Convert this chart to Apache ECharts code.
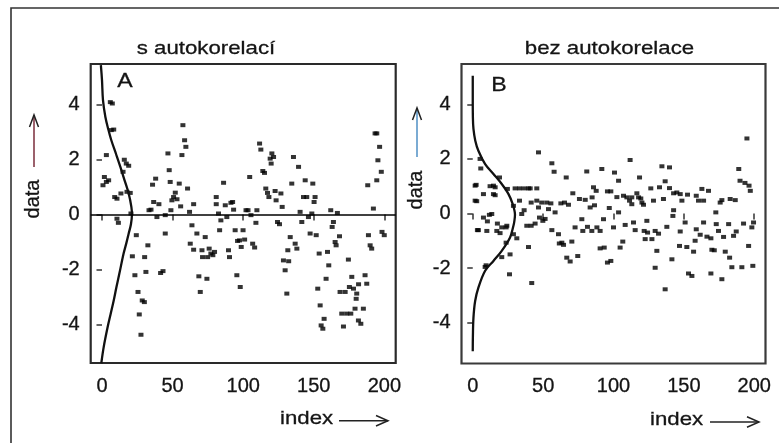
<!DOCTYPE html>
<html><head><meta charset="utf-8">
<script src="https://cdn.jsdelivr.net/npm/echarts@6/dist/echarts.min.js"></script>
<style>html,body{margin:0;padding:0;background:#fff}#c{width:779px;height:443px}</style>
</head><body><div id="c"></div>
<script>
const xTicks = [0, 50, 100, 150, 200];
const yTicks = [-4, -2, 0, 2, 4];
const titles = ['s autokorelací', 'bez autokorelace'];
const panelLabels = ['A', 'B'];
const axisNameY = 'data';
const axisNameX = 'index';

// panel A: autocorrelated series [index, value]
const seriesA = [[0.7,1.07],[1.7,1.37],[3.1,1.19],[4.7,1.25],[3.1,2.17],[5.9,4.1],[7.3,4.05],[6.6,3.08],[8.3,3.1],[9.0,0.64],[10.6,0.58],[10.6,-0.15],[11.6,-0.3],[13.4,0.77],[14.9,1.56],[15.8,2.0],[17.2,1.86],[18.9,1.78],[17.7,0.83],[20.0,0.79],[20.5,0.04],[24.3,-0.75],[21.5,-1.52],[23.3,-2.21],[25.5,-2.82],[26.4,-3.64],[27.6,-4.38],[28.5,-3.13],[30.0,-3.19],[30.2,-1.55],[31.1,-2.09],[32.5,-1.12],[33.3,0.16],[34.7,0.18],[35.8,1.09],[36.6,0.46],[38.0,1.31],[38.9,-0.09],[40.3,0.38],[41.5,-2.13],[43.2,-2.06],[44.8,-0.69],[44.8,-0.02],[46.7,2.23],[47.6,1.62],[48.3,1.19],[48.8,0.16],[49.5,0.52],[50.7,0.64],[51.9,0.8],[53.1,0.56],[54.7,1.13],[55.7,0.3],[56.6,2.17],[57.3,3.26],[58.5,2.71],[59.4,2.47],[60.6,0.95],[62.0,0.1],[63.7,-0.39],[62.5,-1.06],[64.9,0.38],[64.9,-1.28],[67.2,-0.69],[68.6,-2.25],[69.6,-2.82],[70.8,-1.3],[71.2,-1.55],[73.1,-0.82],[74.3,-2.34],[74.8,-1.55],[75.9,-1.24],[77.1,-1.42],[78.5,-1.48],[79.7,-1.36],[80.9,0.64],[80.9,0.38],[82.5,0.04],[83.3,-0.57],[84.2,-0.21],[86.1,1.16],[87.3,0.34],[88.4,-0.09],[89.6,-1.3],[90.3,-1.55],[91.3,0.43],[92.5,0.46],[93.2,0.18],[94.3,-0.57],[95.5,-2.21],[96.0,-0.96],[97.4,-0.94],[97.9,-2.64],[98.6,-1.18],[99.9,-0.57],[101.0,-0.91],[102.0,0.16],[103.4,0.16],[104.6,1.37],[105.5,-0.02],[106.7,-1.06],[108.1,-1.2],[109.0,-0.3],[109.7,0.16],[111.6,2.59],[112.5,2.37],[113.9,1.59],[115.1,1.52],[116.0,0.95],[117.2,0.79],[118.2,0.64],[119.1,2.04],[120.3,2.23],[121.5,2.1],[119.8,1.86],[122.6,0.86],[123.3,0.52],[124.3,-0.27],[125.7,-0.35],[126.7,0.77],[127.6,0.28],[128.5,-1.67],[129.7,-2.03],[130.9,-2.88],[131.6,-1.3],[132.2,-1.7],[133.3,-0.82],[134.4,1.13],[135.6,2.1],[136.8,-1.06],[138.0,-1.24],[139.2,1.74],[140.3,0.1],[141.5,-0.27],[142.7,0.64],[143.9,1.25],[145.0,0.64],[146.2,-0.09],[147.4,-0.69],[148.6,0.04],[149.3,1.13],[150.2,0.46],[150.9,0.64],[151.7,-0.75],[152.8,-2.7],[153.8,-1.42],[154.5,-3.31],[155.2,-4.04],[156.4,-4.16],[157.3,-3.8],[158.7,-2.34],[159.7,-1.36],[160.6,-1.85],[162.0,0.16],[163.0,-0.45],[163.9,-0.27],[165.1,-1.0],[165.8,-1.12],[166.7,0.06],[168.2,-0.79],[168.6,-2.82],[169.8,-3.61],[171.0,-4.08],[172.2,-2.82],[173.3,-3.61],[174.5,-1.64],[175.2,-2.64],[176.2,-3.61],[176.9,-2.27],[178.1,-2.7],[179.2,-3.43],[180.0,-3.07],[180.4,-2.88],[181.6,-3.86],[181.7,-2.54],[183.3,-3.98],[185.1,-3.43],[186.3,-2.21],[187.5,-2.52],[188.2,1.07],[188.7,-0.75],[189.9,-1.12],[191.0,-1.24],[192.2,0.22],[193.4,2.96],[194.6,2.96],[194.6,1.25],[195.4,1.98],[196.6,2.47],[197.8,1.56],[198.3,-0.63],[199.9,-0.75]];

// panel B: uncorrelated series [index, value]
const seriesB = [[1.7,1.02],[2.4,1.05],[1.7,0.47],[2.8,0.45],[3.3,-0.61],[5.2,2.0],[5.7,1.65],[4.0,-0.61],[7.6,0.71],[7.6,-0.15],[8.8,-1.96],[10.0,-0.64],[9.5,-1.9],[10.4,-0.29],[11.8,-0.05],[13.5,-0.02],[12.3,1.0],[14.7,1.02],[15.9,0.96],[14.7,0.71],[15.9,0.67],[17.1,-0.64],[17.5,-0.37],[19.0,1.32],[19.4,-0.72],[20.6,-0.51],[20.6,-1.6],[23.7,-0.51],[24.6,0.9],[23.7,-1.07],[24.2,-0.45],[26.5,-1.5],[26.1,-2.23],[28.9,0.28],[28.9,-0.76],[30.1,0.92],[31.3,-0.91],[33.2,0.92],[33.2,0.47],[34.8,-0.02],[36.5,0.92],[36.5,0.12],[38.4,-0.45],[39.6,0.92],[39.6,-1.23],[40.8,0.92],[41.5,0.4],[41.5,-0.45],[41.9,-2.55],[44.3,-0.37],[45.5,0.92],[45.5,0.47],[46.7,2.24],[46.7,0.22],[47.4,-0.15],[49.0,0.4],[49.8,-0.27],[51.4,-0.2],[52.6,0.4],[53.8,0.16],[55.5,0.37],[56.2,1.84],[56.2,-0.61],[57.8,1.53],[58.5,0.04],[60.9,-0.76],[61.5,-1.1],[62.6,0.37],[63.3,-1.07],[64.5,-1.15],[65.2,0.4],[66.4,1.32],[66.8,-1.62],[69.2,-1.76],[68.0,0.32],[70.4,-1.03],[71.1,0.74],[72.7,-0.51],[74.6,-1.56],[75.8,0.53],[77.5,-0.21],[78.2,-0.64],[79.9,0.5],[81.0,1.54],[81.5,-0.49],[83.4,0.22],[84.6,-0.64],[84.8,0.59],[85.8,0.96],[87.7,0.83],[88.2,-0.51],[86.5,0.3],[90.5,-0.64],[90.5,-1.28],[91.7,1.63],[92.9,-0.21],[93.4,-1.25],[95.7,0.81],[95.7,-1.8],[98.1,0.81],[98.1,-1.74],[97.0,0.2],[100.0,-0.51],[100.7,1.5],[102.4,0.6],[103.6,1.2],[103.6,0.04],[104.7,-1.25],[106.6,-1.03],[107.1,0.65],[108.3,-0.42],[109.5,0.59],[111.4,0.47],[111.8,1.96],[113.0,0.34],[113.0,0.59],[114.2,-0.33],[115.4,-0.61],[116.6,0.74],[117.8,0.59],[118.5,1.32],[119.4,0.55],[120.2,0.4],[121.3,0.32],[121.8,-0.64],[122.5,-0.94],[123.7,-0.27],[124.2,-0.7],[126.5,0.92],[127.3,-0.94],[128.4,0.47],[129.6,-0.64],[129.6,-1.99],[130.8,-1.37],[132.0,-0.74],[132.7,0.96],[134.4,1.73],[135.5,0.53],[136.7,1.18],[136.7,-2.78],[137.9,-0.49],[139.8,1.69],[139.8,0.93],[141.5,-1.68],[142.2,-0.09],[142.7,0.12],[142.7,0.74],[145.0,0.77],[146.9,-1.19],[147.4,-0.66],[147.4,0.71],[148.6,0.47],[150.9,-0.33],[152.1,-1.23],[152.6,0.69],[153.3,-2.2],[155.7,-2.29],[156.9,-1.4],[158.0,-1.0],[158.8,-0.58],[158.8,0.65],[160.4,0.47],[161.6,-0.78],[162.8,0.9],[164.0,0.47],[164.0,-0.33],[166.4,-0.85],[167.5,0.83],[169.2,-0.91],[169.2,-2.2],[169.9,-1.33],[171.6,-1.35],[172.7,0.04],[173.0,-0.39],[174.6,-0.64],[175.8,0.4],[177.0,0.49],[177.0,-2.41],[178.2,-0.86],[179.4,-1.4],[181.8,-0.39],[182.5,-1.62],[182.9,0.53],[184.1,-1.97],[185.3,-0.82],[186.5,0.49],[187.2,-0.66],[189.0,1.63],[189.9,1.2],[191.2,-1.97],[192.4,-0.37],[193.4,1.12],[194.8,2.75],[196.0,-1.19],[196.3,1.02],[197.2,0.83],[198.3,-0.51],[199.0,-1.92],[199.5,-0.33]];

// distribution curves [scaled density (index units), value]
const densityA = [[-0.8,5.45],[0,4.9],[0.7,4.17],[2.4,3.56],[4.5,3.1],[6.6,2.71],[10,2.2],[13,1.74],[16,1.25],[18.9,0.77],[20.8,0.28],[21.2,0],[20.5,-0.35],[18.9,-0.69],[17.2,-1.05],[15.3,-1.42],[12.3,-2.15],[10.2,-2.65],[8.3,-3.13],[6,-3.65],[4,-4.1],[1.2,-4.83],[-0.5,-5.42]];
const densityB = [[0,5.05],[0,4.2],[0.1,3.5],[0.5,3.1],[1.8,2.67],[4,2.3],[8.8,1.81],[14.7,1.45],[20.6,1.08],[25.4,0.71],[28.4,0.34],[30,-0.05],[29.5,-0.3],[28.9,-0.45],[26.5,-0.88],[20.6,-1.37],[14.7,-1.74],[8.8,-2.1],[4,-2.72],[1.7,-3.21],[0.5,-3.82],[0.1,-4.5],[0,-5.05]];

const FONT = '"Liberation Sans", Arial, sans-serif';
const INK = '#141414';
const chart = echarts.init(document.getElementById('c'), null, {renderer: 'canvas'});

function xAx(gi) {
  return {type: 'value', gridIndex: gi, min: -8, max: 208,
    axisLine: {show: false},
    axisTick: {show: true, inside: false, length: 6, customValues: xTicks, lineStyle: {color: '#333', width: 1.5}},
    axisLabel: {show: true, margin: 13, fontSize: 20, fontFamily: FONT, color: INK,
      textBorderColor: INK, textBorderWidth: 0.3, customValues: xTicks},
    splitLine: {show: false}};
}
function yAx(gi, mn, mx) {
  return {type: 'value', gridIndex: gi, min: mn, max: mx,
    axisLine: {show: false},
    axisTick: {show: true, inside: false, length: 5.5, customValues: yTicks, lineStyle: {color: '#333', width: 1.5}},
    axisLabel: {show: true, margin: 11, fontSize: 20, fontFamily: FONT, color: INK,
      textBorderColor: INK, textBorderWidth: 0.3, customValues: yTicks},
    splitLine: {show: false}};
}
function txt(t, x, y, size, opts) {
  opts = opts || {};
  return {type: 'text', x: x, y: y, rotation: opts.rot || 0, scaleX: opts.sx || 1, silent: true,
    style: {text: t, font: size + 'px ' + FONT, fill: INK, stroke: INK, lineWidth: 0.3,
      align: opts.align || 'center', textAlign: opts.align || 'center',
      verticalAlign: 'middle', textVerticalAlign: 'middle'}};
}
function pl(points, color, w) {
  return {type: 'polyline', silent: true, shape: {points: points}, style: {stroke: color, lineWidth: w, fill: null}};
}

const option = {
  backgroundColor: '#fff',
  animation: false,
  grid: [
    {left: 90.7, top: 64, width: 305, height: 299, show: true, borderColor: '#2a2a2a', borderWidth: 2.2, backgroundColor: 'transparent'},
    {left: 461.5, top: 64, width: 304, height: 299.5, show: true, borderColor: '#3a3a3a', borderWidth: 2.2, backgroundColor: 'transparent'}
  ],
  xAxis: [xAx(0), xAx(1)],
  yAxis: [yAx(0, -5.41, 5.49), yAx(1, -5.5, 5.48)],
  series: [
    {type: 'scatter', xAxisIndex: 0, yAxisIndex: 0, data: seriesA, symbol: 'rect', symbolSize: [5, 4],
     itemStyle: {color: '#000'}, silent: true,
     markLine: {silent: true, symbol: 'none', label: {show: false}, lineStyle: {color: '#000', width: 1.5, type: 'solid'}, data: [{yAxis: 0}]}},
    {type: 'line', xAxisIndex: 0, yAxisIndex: 0, data: densityA, smooth: 0.35, showSymbol: false, clip: true,
     lineStyle: {color: '#111', width: 2.3}, silent: true},
    {type: 'scatter', xAxisIndex: 1, yAxisIndex: 1, data: seriesB, symbol: 'rect', symbolSize: [5, 4],
     itemStyle: {color: '#000'}, silent: true},
    {type: 'line', xAxisIndex: 1, yAxisIndex: 1, data: densityB, smooth: 0.35, showSymbol: false, clip: true,
     lineStyle: {color: '#111', width: 2.3}, silent: true}
  ],
  graphic: {elements: [
    pl([[11, 443], [11, 8], [779, 8]], '#333', 1.6),
    txt(titles[0], 206, 48.5, 19, {sx: 1.17}),
    txt(titles[1], 609.5, 48.5, 19, {sx: 1.17}),
    txt(panelLabels[0], 125, 81, 21, {sx: 1.1}),
    txt(panelLabels[1], 499, 85, 21, {sx: 1.1}),
    txt(axisNameY, 33, 199, 20, {rot: Math.PI / 2}),
    txt(axisNameY, 416, 190, 20, {rot: Math.PI / 2}),
    pl([[34, 167], [34, 115]], '#7b2d3b', 1.5),
    pl([[29.5, 127], [34, 115], [38.5, 127]], '#222', 1.5),
    pl([[417, 157], [417, 108]], '#4f8fc4', 1.5),
    pl([[412.5, 120], [417, 108], [421.5, 120]], '#222', 1.5),
    txt(axisNameX, 280, 418.4, 19, {sx: 1.17, align: 'left'}),
    txt(axisNameX, 650, 420, 19, {sx: 1.17, align: 'left'}),
    pl([[339, 420.7], [388, 420.7]], '#222', 1.5),
    pl([[376, 415.5], [388, 420.7], [376, 426]], '#222', 1.5),
    pl([[710, 422], [759, 422]], '#222', 1.5),
    pl([[747, 416.8], [759, 422], [747, 427.2]], '#222', 1.5)
  ]}
};
chart.setOption(option);
</script>
</body></html>
